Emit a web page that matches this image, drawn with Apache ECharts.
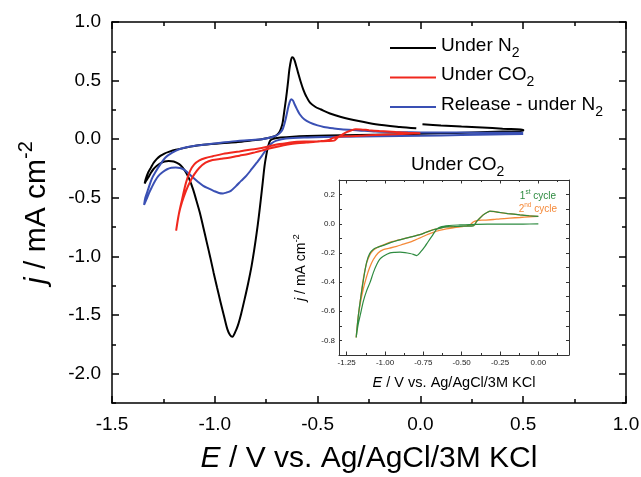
<!DOCTYPE html>
<html><head><meta charset="utf-8">
<script src="https://cdn.jsdelivr.net/npm/echarts@6/dist/echarts.min.js"></script>
<style>html,body{margin:0;padding:0;background:#fff}#c{width:641px;height:477px}</style>
</head><body><div id="c"></div>
<script>
// ---- Main plot: Under N2 (black) ----
const E_N2 = [0.01, 0.1, 0.2, 0.3, 0.4, 0.5,
  0.5, 0.4, 0.25, 0.1, 0.0, -0.15, -0.3, -0.45, -0.55, -0.62, -0.68, -0.71,
  -0.73, -0.742, -0.75, -0.758, -0.767, -0.776, -0.786, -0.796, -0.808, -0.821,
  -0.838, -0.855, -0.872, -0.888, -0.902, -0.914, -0.926, -0.939, -0.955, -0.972,
  -0.989, -1.006, -1.022, -1.039, -1.056, -1.073, -1.09, -1.106, -1.123, -1.14,
  -1.157, -1.173, -1.2, -1.224, -1.245, -1.265, -1.283, -1.299, -1.312, -1.324,
  -1.334, -1.341,
  -1.336, -1.324, -1.31, -1.299, -1.283, -1.265, -1.245, -1.224, -1.19, -1.14,
  -1.1, -1.056, -0.97, -0.888, -0.83, -0.771, -0.735, -0.712, -0.697, -0.687,
  -0.678, -0.67, -0.662, -0.654, -0.645, -0.637, -0.63, -0.624, -0.618, -0.612,
  -0.604, -0.595, -0.583, -0.57, -0.555, -0.537, -0.51, -0.486, -0.44, -0.386,
  -0.3, -0.218, -0.1, -0.02];
const j_N2 = [0.128, 0.118, 0.108, 0.1, 0.09, 0.082,
  0.07, 0.065, 0.057, 0.05, 0.046, 0.041, 0.036, 0.031, 0.027, 0.022, 0.014, 0.006,
  -0.01, -0.07, -0.14, -0.227, -0.37, -0.511, -0.66, -0.795, -0.94, -1.08,
  -1.23, -1.364, -1.49, -1.59, -1.65, -1.685, -1.67, -1.62, -1.51, -1.39,
  -1.265, -1.136, -1.008, -0.88, -0.75, -0.625, -0.52, -0.426, -0.345, -0.284,
  -0.24, -0.213, -0.19, -0.185, -0.19, -0.205, -0.228, -0.256, -0.29, -0.327,
  -0.355, -0.378,
  -0.34, -0.284, -0.24, -0.205, -0.17, -0.142, -0.122, -0.108, -0.09, -0.071,
  -0.058, -0.048, -0.034, -0.023, -0.012, 0.0, 0.012, 0.023, 0.038, 0.057,
  0.09, 0.142, 0.24, 0.34, 0.47, 0.597, 0.67, 0.7, 0.695, 0.672,
  0.625, 0.568, 0.495, 0.426, 0.365, 0.3125, 0.275, 0.256, 0.22, 0.19,
  0.155, 0.128, 0.105, 0.093];

// ---- Main plot: Release - under N2 (blue) ----
const E_rel = [0.5, 0.35, 0.2, 0.0, -0.2, -0.386, -0.55, -0.654, -0.7, -0.72,
  -0.738, -0.755, -0.771, -0.796, -0.821, -0.846, -0.872, -0.897, -0.922, -0.943,
  -0.96, -0.98, -1.006, -1.031, -1.056, -1.081, -1.106, -1.127, -1.148, -1.169,
  -1.19, -1.211, -1.232, -1.253, -1.274, -1.29, -1.307, -1.32, -1.332, -1.344,
  -1.338, -1.324, -1.307, -1.29, -1.265, -1.24, -1.207, -1.173, -1.12, -1.056,
  -0.97, -0.888, -0.82, -0.771, -0.735, -0.704, -0.685, -0.67, -0.657, -0.645,
  -0.637, -0.629, -0.62, -0.612, -0.6, -0.587, -0.565, -0.537, -0.5, -0.47,
  -0.42, -0.386, -0.3, -0.218, -0.1, 0.0, 0.117, 0.3, 0.5];
const j_rel = [0.045, 0.041, 0.036, 0.03, 0.026, 0.022, 0.015, 0.006, -0.012, -0.03,
  -0.06, -0.1, -0.142, -0.2, -0.256, -0.31, -0.355, -0.4, -0.44, -0.455,
  -0.462, -0.458, -0.44, -0.42, -0.398, -0.365, -0.327, -0.293, -0.261, -0.245,
  -0.241, -0.244, -0.256, -0.28, -0.3125, -0.355, -0.412, -0.46, -0.511, -0.56,
  -0.5, -0.426, -0.34, -0.284, -0.215, -0.156, -0.115, -0.085, -0.062, -0.048,
  -0.03, -0.014, -0.006, 0.0, 0.012, 0.028, 0.05, 0.085, 0.16, 0.256,
  0.31, 0.341, 0.33, 0.298, 0.255, 0.213, 0.17, 0.142, 0.118, 0.105,
  0.092, 0.085, 0.075, 0.065, 0.06, 0.058, 0.057, 0.056, 0.055];

// ---- Under CO2: 1st cycle (green, inset) ----
const E_c1 = [0.0, -0.1, -0.2, -0.3, -0.4, -0.51, -0.58, -0.64, -0.665, -0.695,
  -0.72, -0.739, -0.765, -0.793, -0.815, -0.837, -0.87, -0.902, -0.935, -0.967,
  -1.011, -1.035, -1.054, -1.076, -1.098, -1.12, -1.141, -1.16, -1.175, -1.188,
  -1.175, -1.16, -1.14, -1.12, -1.1, -1.075, -1.045, -1.01, -0.96, -0.88,
  -0.83, -0.772, -0.73, -0.685, -0.64, -0.6, -0.55, -0.511, -0.465, -0.424,
  -0.402, -0.38, -0.359, -0.335, -0.315, -0.29, -0.25, -0.2, -0.12, -0.06, 0.0];
const j_c1 = [-0.001, -0.002, -0.002, -0.003, -0.004, -0.008, -0.012, -0.022, -0.04, -0.087,
  -0.125, -0.155, -0.19, -0.218, -0.21, -0.204, -0.198, -0.195, -0.196, -0.2,
  -0.223, -0.245, -0.28, -0.335, -0.404, -0.46, -0.53, -0.62, -0.69, -0.78,
  -0.64, -0.52, -0.38, -0.265, -0.205, -0.175, -0.16, -0.148, -0.128, -0.104,
  -0.09, -0.075, -0.058, -0.041, -0.03, -0.022, -0.02, -0.018, -0.016, -0.014,
  0.016, 0.04, 0.061, 0.077, 0.086, 0.084, 0.077, 0.07, 0.061, 0.055, 0.05];

// ---- Under CO2: 2nd cycle (orange inset, red in main plot) ----
const E_c2 = [0.0, -0.06, -0.12, -0.185, -0.25, -0.293, -0.35, -0.402, -0.425, -0.445,
  -0.48, -0.511, -0.555, -0.6, -0.645, -0.685, -0.73, -0.772, -0.805, -0.837,
  -0.88, -0.924, -0.97, -1.011, -1.045, -1.076, -1.1, -1.119, -1.14, -1.16,
  -1.175, -1.188,
  -1.175, -1.16, -1.14, -1.12, -1.1, -1.075, -1.045, -1.01, -0.96, -0.88,
  -0.83, -0.772, -0.73, -0.685, -0.64, -0.6, -0.55, -0.5, -0.45, -0.42,
  -0.402, -0.38, -0.359, -0.335, -0.315, -0.29, -0.25, -0.2, -0.12, -0.06, 0.0];
const j_c2 = [0.05, 0.047, 0.043, 0.039, 0.034, 0.029, 0.025, 0.022, 0.012, -0.007,
  -0.016, -0.022, -0.028, -0.035, -0.046, -0.059, -0.077, -0.097, -0.112, -0.126,
  -0.14, -0.155, -0.167, -0.177, -0.2, -0.245, -0.3, -0.359, -0.44, -0.54,
  -0.64, -0.78,
  -0.64, -0.52, -0.37, -0.27, -0.215, -0.18, -0.16, -0.145, -0.125, -0.104,
  -0.09, -0.075, -0.058, -0.041, -0.03, -0.022, -0.02, -0.018, -0.015, -0.012,
  0.016, 0.04, 0.061, 0.077, 0.085, 0.084, 0.077, 0.07, 0.061, 0.055, 0.05];

// ---- Tick values ----
const xMainMajor = [-1.5, -1.0, -0.5, 0.0, 0.5, 1.0];
const xMainMinor = [-1.25, -0.75, -0.25, 0.25, 0.75];
const yMainMajor = [-2.0, -1.5, -1.0, -0.5, 0.0, 0.5, 1.0];
const yMainMinor = [-2.25, -1.75, -1.25, -0.75, -0.25, 0.25, 0.75];
const xInsetMajor = [-1.25, -1.0, -0.75, -0.5, -0.25, 0.0];
const xInsetMinor = [-1.125, -0.875, -0.625, -0.375, -0.125, 0.125];

const FONT = '"Liberation Sans", Arial, sans-serif';
const pairs = (E, J) => E.map((x, i) => [x, J[i]]);

const BLACK = '#000000', RED = '#f0281e', BLUE = '#3a50b4', GREEN = '#2e8b40', ORANGE = '#f58a3a';

function ax(o) {
  return Object.assign({
    type: 'value', splitLine: { show: false },
    axisLine: { show: false, onZero: false },
    axisLabel: { show: false }, axisTick: { show: false }
  }, o);
}
const mainLine = { show: true, onZero: false, lineStyle: { color: '#000', width: 1.5 } };
const insetLine = { show: true, onZero: false, lineStyle: { color: '#333', width: 1 } };
const tk = (vals, len, w, c) => ({ show: true, inside: true, length: len, customValues: vals, lineStyle: { color: c || '#000', width: w } });

const subRich = (fs, sfs, pad, color) => ({
  n: { fontSize: fs, fontFamily: FONT, color: color, verticalAlign: 'top' },
  sub: { fontSize: sfs, fontFamily: FONT, color: color, verticalAlign: 'bottom', padding: [pad, 0, 0, 0] }
});
const supRich = (fs, sfs, pad, color) => ({
  i: { fontSize: fs, fontFamily: FONT, fontStyle: 'italic', color: color, verticalAlign: 'bottom' },
  n: { fontSize: fs, fontFamily: FONT, color: color, verticalAlign: 'bottom' },
  sup: { fontSize: sfs, fontFamily: FONT, color: color, verticalAlign: 'top', padding: [0, 0, pad, 0] }
});
const legendText = {
  'Under N2': '{n|Under N}{sub|2}',
  'Under CO2': '{n|Under CO}{sub|2}',
  'Release - under N2': '{n|Release - under N}{sub|2}'
};

const chart = echarts.init(document.getElementById('c'), null, { renderer: 'canvas' });
chart.setOption({
  animation: false,
  backgroundColor: '#fff',
  grid: [
    { left: 112, right: 15, top: 22, bottom: 74, outerBoundsMode: 'none', containLabel: false },
    { left: 339, top: 180, width: 230, height: 175, outerBoundsMode: 'none', containLabel: false }
  ],
  xAxis: [
    ax({ gridIndex: 0, position: 'bottom', min: -1.5, max: 1.0, axisLine: mainLine,
      axisTick: tk(xMainMajor, 7, 1.5),
      axisLabel: { show: true, customValues: xMainMajor, formatter: v => v.toFixed(1), fontSize: 19, color: '#000', fontFamily: FONT, margin: 12 },
      name: '{i|E}{n| / V vs. Ag/AgCl/3M KCl}', nameLocation: 'middle', nameGap: 41,
      nameTextStyle: { rich: supRich(30, 20, 0, '#000') } }),
    ax({ gridIndex: 0, position: 'bottom', min: -1.5, max: 1.0, axisTick: tk(xMainMinor, 4, 1.5) }),
    ax({ gridIndex: 0, position: 'top', min: -1.5, max: 1.0, axisLine: mainLine, axisTick: tk(xMainMajor, 7, 1.5) }),
    ax({ gridIndex: 0, position: 'top', min: -1.5, max: 1.0, axisTick: tk(xMainMinor, 4, 1.5) }),
    ax({ gridIndex: 1, position: 'bottom', min: -1.3, max: 0.2, axisLine: insetLine,
      axisTick: tk(xInsetMajor, 3.5, 1, '#333'),
      axisLabel: { show: true, customValues: xInsetMajor, formatter: v => v.toFixed(2), fontSize: 8, color: '#222', fontFamily: FONT, margin: 4 },
      name: '{i|E}{n| / V vs. Ag/AgCl/3M KCl}', nameLocation: 'middle', nameGap: 20,
      nameTextStyle: { rich: supRich(14.5, 10, 0, '#000') } }),
    ax({ gridIndex: 1, position: 'bottom', min: -1.3, max: 0.2, axisTick: tk(xInsetMinor, 2, 1, '#333') }),
    ax({ gridIndex: 1, position: 'top', min: -1.3, max: 0.2, axisLine: insetLine, axisTick: tk(xInsetMajor, 3.5, 1, '#333') }),
    ax({ gridIndex: 1, position: 'top', min: -1.3, max: 0.2, axisTick: tk(xInsetMinor, 2, 1, '#333') })
  ],
  yAxis: [
    ax({ gridIndex: 0, position: 'left', min: -2.25, max: 1.0, axisLine: mainLine,
      axisTick: tk(yMainMajor, 7, 1.5),
      axisLabel: { show: true, customValues: yMainMajor, formatter: v => v.toFixed(1), fontSize: 19, color: '#000', fontFamily: FONT, margin: 11 },
      name: '{i|j}{n| / mA cm}{sup|-2}', nameLocation: 'middle', nameRotate: 90, nameGap: 60,
      nameTextStyle: { rich: supRich(30, 20, 16, '#000') } }),
    ax({ gridIndex: 0, position: 'left', min: -2.25, max: 1.0, axisTick: tk(yMainMinor, 4, 1.5) }),
    ax({ gridIndex: 0, position: 'right', min: -2.25, max: 1.0, axisLine: mainLine, axisTick: tk(yMainMajor, 7, 1.5) }),
    ax({ gridIndex: 0, position: 'right', min: -2.25, max: 1.0, axisTick: tk(yMainMinor, 4, 1.5) }),
    ax({ gridIndex: 1, position: 'left', min: -0.9, max: 0.3, interval: 0.1, axisLine: insetLine,
      axisTick: { show: true, inside: true, length: 3, lineStyle: { color: '#333', width: 1 } },
      axisLabel: { show: true, fontSize: 8, color: '#222', fontFamily: FONT, margin: 4,
        formatter: v => (Math.abs(Math.round(v * 10)) % 2 === 0 ? (Math.abs(v) < 1e-9 ? 0 : v).toFixed(1) : '') },
      name: '{i|j}{n| / mA cm}{sup|-2}', nameLocation: 'middle', nameRotate: 90, nameGap: 31,
      nameTextStyle: { rich: supRich(14, 9.5, 7, '#000') } }),
    ax({ gridIndex: 1, position: 'right', min: -0.9, max: 0.3, interval: 0.1, axisLine: insetLine,
      axisTick: { show: true, inside: true, length: 3, lineStyle: { color: '#333', width: 1 } } })
  ],
  legend: {
    orient: 'vertical', left: 390, top: 36, padding: 0, itemWidth: 46, itemHeight: 2, itemGap: 5.5, icon: 'rect',
    data: ['Under N2', 'Under CO2', 'Release - under N2'],
    formatter: name => legendText[name],
    textStyle: { fontSize: 19, fontFamily: FONT, color: '#000', rich: subRich(19, 14, 10, '#000') }
  },
  graphic: [
    { type: 'text', left: 411, top: 155, style: { text: '{n|Under CO}{sub|2}', rich: subRich(19, 14, 10, '#000') } },
    { type: 'text', right: 85, top: 189, style: { text: '{n|1}{sup|st}{n| cycle}', fill: GREEN, rich: supRich(10, 6.5, 5, GREEN) } },
    { type: 'text', right: 84, top: 202, style: { text: '{n|2}{sup|nd}{n| cycle}', fill: ORANGE, rich: supRich(10, 6.5, 5, ORANGE) } }
  ],
  series: [
    { name: 'Under N2', type: 'line', xAxisIndex: 0, yAxisIndex: 0, data: pairs(E_N2, j_N2),
      showSymbol: false, symbol: 'none', smooth: 0.3, lineStyle: { color: BLACK, width: 2 }, itemStyle: { color: BLACK } },
    { name: 'Release - under N2', type: 'line', xAxisIndex: 0, yAxisIndex: 0, data: pairs(E_rel, j_rel),
      showSymbol: false, symbol: 'none', smooth: 0.3, lineStyle: { color: BLUE, width: 2 }, itemStyle: { color: BLUE } },
    { name: 'Under CO2', type: 'line', xAxisIndex: 0, yAxisIndex: 0, data: pairs(E_c2, j_c2),
      showSymbol: false, symbol: 'none', smooth: 0.3, lineStyle: { color: RED, width: 2 }, itemStyle: { color: RED } },
    { name: '2nd cycle', type: 'line', xAxisIndex: 4, yAxisIndex: 4, data: pairs(E_c2, j_c2),
      showSymbol: false, symbol: 'none', smooth: 0.3, lineStyle: { color: ORANGE, width: 1.3 }, itemStyle: { color: ORANGE } },
    { name: '1st cycle', type: 'line', xAxisIndex: 4, yAxisIndex: 4, data: pairs(E_c1, j_c1),
      showSymbol: false, symbol: 'none', smooth: 0.3, lineStyle: { color: GREEN, width: 1.2 }, itemStyle: { color: GREEN } }
  ]
});
</script>
</body></html>
